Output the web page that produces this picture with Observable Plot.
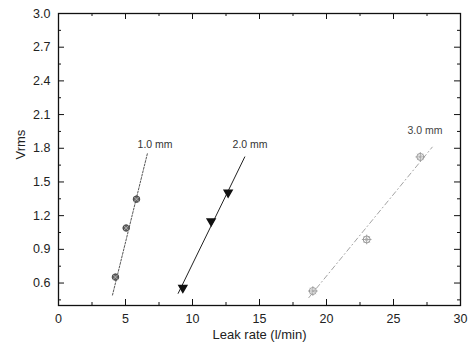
<!DOCTYPE html>
<html>
<head>
<meta charset="utf-8">
<script src="https://cdn.jsdelivr.net/npm/d3@7"></script>
<script src="https://cdn.jsdelivr.net/npm/@observablehq/plot@0.6"></script>
<style>
  html, body { margin: 0; padding: 0; background: #fff; }
  #chart svg { display: block; }
</style>
</head>
<body>
<div id="chart"></div>
<script>
// Measured points (leak rate l/min, Vrms)
const s1x = [4.25, 5.05, 5.82];
const s1y = [0.653, 1.09, 1.347];
const s2x = [9.28, 11.39, 12.66];
const s2y = [0.558, 1.151, 1.406];
const s3x = [18.98, 23.0, 27.0];
const s3y = [0.529, 0.988, 1.723];

// Fitted line end points
const f1x = [4.03, 6.64];
const f1y = [0.493, 1.756];
const f2x = [8.93, 13.9];
const f2y = [0.508, 1.723];
const f3x = [18.68, 27.89];
const f3y = [0.47, 1.81];

// Series labels
const seriesNames = ["1.0 mm", "2.0 mm", "3.0 mm"];
const labelX = [5.9, 12.99, 26.04];
const labelY = [1.83, 1.83, 1.955];

// Ticks
const xMajor = [0, 5, 10, 15, 20, 25, 30];
const xMinor = [2.5, 7.5, 12.5, 17.5, 22.5, 27.5];
const yMajor = [0.6, 0.9, 1.2, 1.5, 1.8, 2.1, 2.4, 2.7, 3.0];
const yMinor = [0.45, 0.75, 1.05, 1.35, 1.65, 1.95, 2.25, 2.55, 2.85];

const pts = (xs, ys) => xs.map((x, i) => ({x, y: ys[i]}));
const labels = seriesNames.map((t, i) => ({t, x: labelX[i], y: labelY[i]}));

const font = "Liberation Sans, Arial, sans-serif";

const W = 473, H = 353, ML = 58, MR = 13, MT = 13, MB = 48;
const PW = W - ML - MR, PH = H - MT - MB;

// inward ticks drawn as inset rules
const tickX = (data, side, len) => Plot.ruleX(data, {
  x: d => d, stroke: "#111", strokeWidth: 1,
  ...(side === "bottom" ? {insetTop: PH - len} : {insetBottom: PH - len})
});
const tickY = (data, side, len) => Plot.ruleY(data, {
  y: d => d, stroke: "#111", strokeWidth: 1,
  ...(side === "left" ? {insetRight: PW - len} : {insetLeft: PW - len})
});

const chart = Plot.plot({
  width: W,
  height: H,
  marginLeft: ML,
  marginRight: MR,
  marginTop: MT,
  marginBottom: MB,
  style: {fontFamily: font, fontSize: "12px", color: "#222", background: "#fff"},
  x: {domain: [0, 30]},
  y: {domain: [0.4, 3.0]},
  marks: [
    // fitted lines
    Plot.line(pts(f1x, f1y), {x: "x", y: "y", stroke: "#444", strokeWidth: 0.9, strokeDasharray: "2,1.5"}),
    Plot.line(pts(f2x, f2y), {x: "x", y: "y", stroke: "#222", strokeWidth: 1}),
    Plot.line(pts(f3x, f3y), {x: "x", y: "y", stroke: "#999", strokeWidth: 0.9, strokeDasharray: "5,3,1,3"}),
    // markers
    Plot.dot(pts(s1x, s1y), {x: "x", y: "y", r: 3.3, fill: "#666", stroke: "#333", strokeWidth: 0.8}),
    Plot.dot(pts(s1x, s1y), {x: "x", y: "y", r: 3, symbol: "times", stroke: "#ddd", strokeWidth: 0.6}),
    Plot.dot(pts(s2x, s2y), {x: "x", y: "y", r: 2.9, symbol: "triangle", rotate: 180, fill: "#111", stroke: "#111"}),
    Plot.dot(pts(s3x, s3y), {x: "x", y: "y", r: 3.5, fill: "none", stroke: "#999", strokeWidth: 1}),
    Plot.dot(pts(s3x, s3y), {x: "x", y: "y", r: 3.2, symbol: "plus", stroke: "#999", strokeWidth: 0.9}),
    Plot.dot(pts(s3x, s3y), {x: "x", y: "y", r: 3.0, symbol: "times", stroke: "#aaa", strokeWidth: 0.7}),
    // series labels
    Plot.text(labels, {x: "x", y: "y", text: "t", textAnchor: "start", fontSize: 10.5, fill: (d, i) => i === 2 ? "#444" : "#333"}),
    // inward ticks
    tickX(xMajor, "bottom", 6), tickX(xMinor, "bottom", 3),
    tickX(xMajor, "top", 6), tickX(xMinor, "top", 3),
    tickY(yMajor, "left", 6), tickY(yMinor, "left", 3),
    tickY(yMajor, "right", 6), tickY(yMinor, "right", 3),
    // frame
    Plot.frame({stroke: "#111", strokeWidth: 1.3}),
    // tick labels
    Plot.axisX(xMajor, {tickSize: 0, tickPadding: 9, fontSize: 12.5, fill: "#222", label: null, tickFormat: d => String(d)}),
    Plot.axisY(yMajor, {tickSize: 0, tickPadding: 8, fontSize: 12.5, fill: "#222", label: null, tickFormat: d => d.toFixed(1)}),
    // axis titles
    Plot.text(["Leak rate (l/min)"], {frameAnchor: "bottom", dy: 33, fontSize: 13, fill: "#222"}),
    Plot.text(["Vrms"], {frameAnchor: "left", dx: -38, rotate: -90, fontSize: 13, fill: "#222"})
  ]
});

document.getElementById("chart").appendChild(chart);
</script>
</body>
</html>
